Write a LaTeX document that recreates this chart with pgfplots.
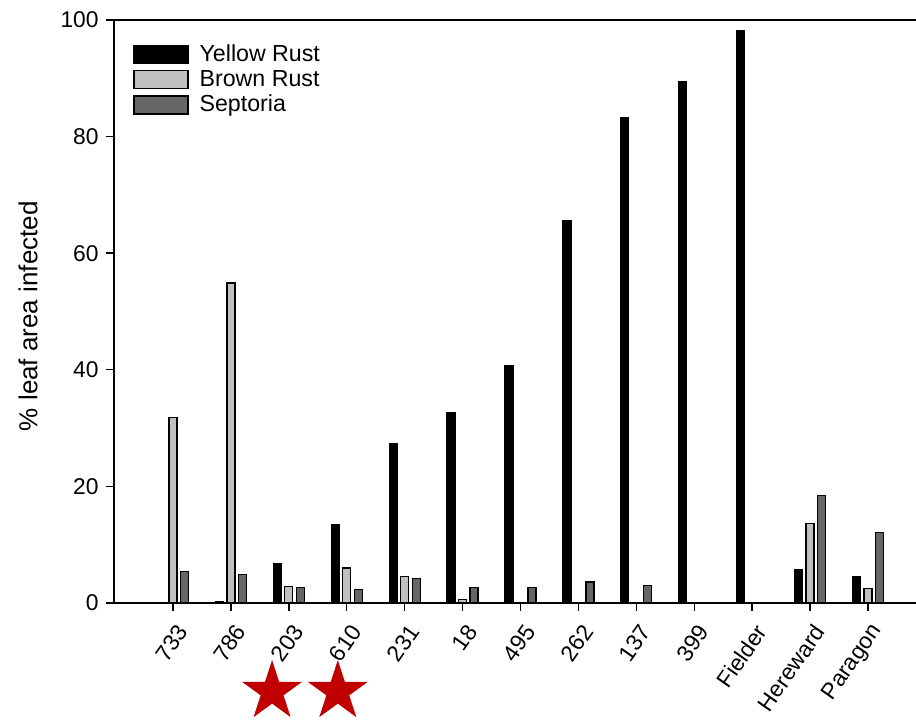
\documentclass[border=0pt]{standalone}
\usepackage{fontspec}
\setmainfont{Liberation Sans}
\usepackage{pgfplots}
\pgfplotsset{compat=1.18}
\definecolor{lightbar}{HTML}{C0C0C0}
\definecolor{darkbar}{HTML}{666666}
\definecolor{starred}{HTML}{C00000}
\pgfdeclareplotmark{fivestar}{%
  \pgfpathmoveto{\pgfpointpolar{90}{\pgfplotmarksize}}%
  \pgfpathlineto{\pgfpointpolar{126}{0.382\pgfplotmarksize}}%
  \pgfpathlineto{\pgfpointpolar{162}{\pgfplotmarksize}}%
  \pgfpathlineto{\pgfpointpolar{198}{0.382\pgfplotmarksize}}%
  \pgfpathlineto{\pgfpointpolar{234}{\pgfplotmarksize}}%
  \pgfpathlineto{\pgfpointpolar{270}{0.382\pgfplotmarksize}}%
  \pgfpathlineto{\pgfpointpolar{306}{\pgfplotmarksize}}%
  \pgfpathlineto{\pgfpointpolar{342}{0.382\pgfplotmarksize}}%
  \pgfpathlineto{\pgfpointpolar{18}{\pgfplotmarksize}}%
  \pgfpathlineto{\pgfpointpolar{54}{0.382\pgfplotmarksize}}%
  \pgfpathclose
  \pgfusepathqfill
}
\begin{document}
\begin{tikzpicture}
\useasboundingbox (-57pt,-59.5pt) rectangle (401pt,301.5pt);
\begin{axis}[
  at={(0,0)}, anchor=south west,
  scale only axis,
  width=401pt, height=291.5pt,
  xmin=-1.02, xmax=12.83,
  ymin=0, ymax=100,
  clip=false,
  axis x line=box, axis y line=left,
  axis line style={-, line width=0.8pt, black},
  every outer y axis line/.append style={-},
  xtick pos=bottom, ytick pos=left,
  tick align=outside,
  major tick length=4pt,
  tick style={line width=0.7pt, black},
  xtick={0,1,2,3,4,5,6,7,8,9,10,11,12},
  xticklabels={733,786,203,610,231,18,495,262,137,399,Fielder,Hereward,Paragon},
  ytick={0,20,40,60,80,100},
  /pgf/number format/assume math mode=true,
  tick label style={font=\fontsize{11.4}{13}\selectfont},
  xticklabel style={rotate=55, anchor=east, inner sep=0pt, xshift=-3.8pt, yshift=-8.6pt},
  yticklabel style={inner sep=0pt, xshift=-3.5pt},
  ylabel={\% leaf area infected},
  ylabel style={at={(rel axis cs:0,0.492)}, anchor=center, yshift=43pt, font=\fontsize{13}{15}\selectfont},
  ybar=1.75pt, bar width=4pt,
  legend image code/.code={\draw[#1, line width=0.6pt] (0pt,-4.5pt) rectangle (27pt,4.5pt);},
  legend style={at={(0,1)}, anchor=north west, xshift=9.5pt, yshift=-11pt, draw=none, fill=none, inner sep=0pt,
    font=\fontsize{11.6}{13}\selectfont, row sep=1pt,
    nodes={inner sep=1pt}},
  legend cell align=left,
  /tikz/every odd column/.append style={column sep=4.5pt},
]
\addplot[draw=black, line width=0.6pt, fill=black] coordinates {
 (1,0.3) (2,6.8) (3,13.4) (4,27.4) (5,32.7) (6,40.7) (7,65.6) (8,83.2) (9,89.4) (10,98.1) (11,5.7) (12,4.5)};
\addlegendentry{Yellow Rust}
\addplot[draw=black, line width=0.6pt, fill=lightbar] coordinates {
 (0,31.8) (1,54.9) (2,2.8) (3,6.0) (4,4.5) (5,0.6) (11,13.6) (12,2.5)};
\addlegendentry{Brown Rust}
\addplot[draw=black, line width=0.6pt, fill=darkbar] coordinates {
 (0,5.4) (1,4.9) (2,2.6) (3,2.3) (4,4.2) (5,2.6) (6,2.6) (7,3.6) (8,3.0) (11,18.4) (12,12.1)};
\addlegendentry{Septoria}
\addplot[forget plot, only marks, mark=fivestar, mark size=15.75pt, color=starred, fill=starred, bar shift=0pt] coordinates {
 (1.71,-15.2) (2.845,-15.2)};
\end{axis}
\end{tikzpicture}
\end{document}
